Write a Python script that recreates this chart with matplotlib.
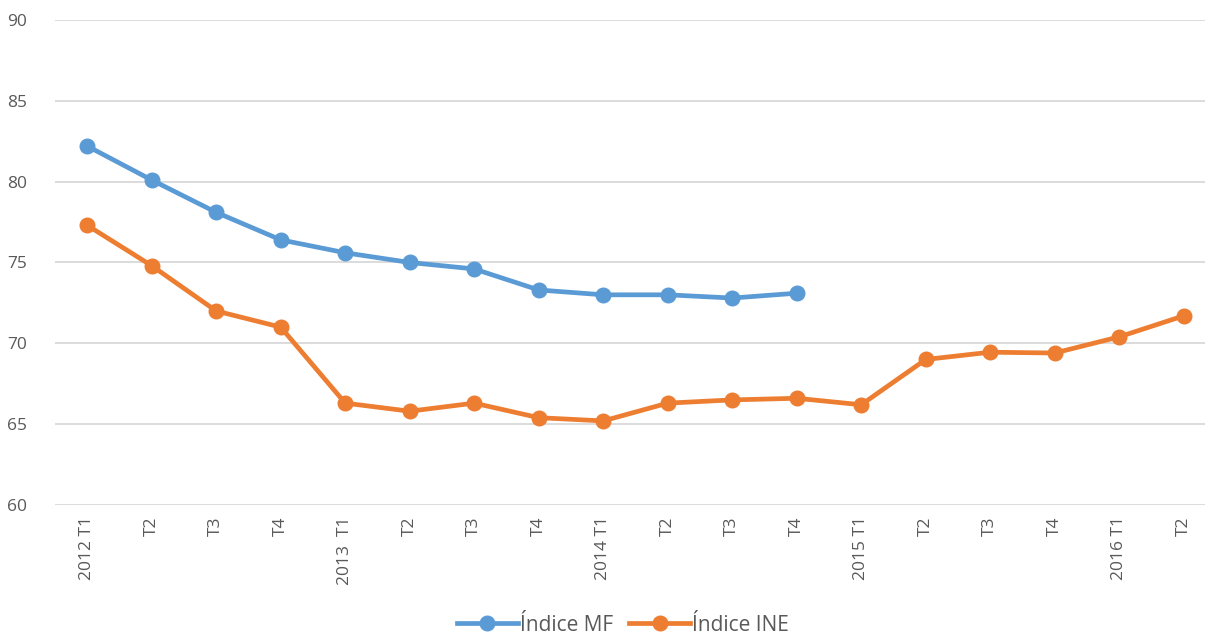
import numpy as np
import matplotlib.pyplot as plt

plt.rcParams.update({
    "font.family": ["Open Sans", "DejaVu Sans"],
    "text.color": "#595959",
    "xtick.color": "#595959",
    "ytick.color": "#595959",
})

trimestres = ["2012 T1", "T2", "T3", "T4",
              "2013  T1", "T2", "T3", "T4",
              "2014 T1", "T2", "T3", "T4",
              "2015 T1", "T2", "T3", "T4",
              "2016 T1", "T2"]
indice_mf = [82.2, 80.1, 78.1, 76.4, 75.6, 75.0, 74.6, 73.3, 73.0, 73.0, 72.8, 73.1]
indice_ine = [77.3, 74.8, 72.0, 71.0, 66.3, 65.8, 66.3, 65.4, 65.2, 66.3, 66.5, 66.6,
              66.2, 69.0, 69.45, 69.4, 70.4, 71.7]

azul = "#5B9BD5"
laranja = "#ED7D31"

fig = plt.figure(figsize=(12.05, 6.34), dpi=100)
ax = fig.add_axes([0.0456, 0.2035, 0.9544, 0.765])

x = np.arange(len(trimestres))
ax.plot(x[:len(indice_mf)], indice_mf, "-o", color=azul, lw=3.4, ms=10.5, label="Índice MF")
ax.plot(x, indice_ine, "-o", color=laranja, lw=3.4, ms=10.5, label="Índice INE")

ax.set_ylim(60, 90)
ax.set_yticks(range(60, 91, 5))
ax.set_xlim(-0.5, 17.33)
ax.set_xticks(x)
ax.set_xticklabels(trimestres, rotation=90, va="top")
ax.tick_params(axis="both", length=0, labelsize=12.5)
ax.tick_params(axis="x", pad=8)
ax.tick_params(axis="y", pad=20)
ax.grid(axis="y", color="#D9D9D9", lw=1.3)
ax.set_axisbelow(True)
for s in ax.spines.values():
    s.set_visible(False)

fig.legend(loc="center", bbox_to_anchor=(0.517, 0.014), ncol=2, frameon=False,
           fontsize=15, handlelength=2.9, columnspacing=0.8, handletextpad=0.1)

fig.savefig("out.png", dpi=100)
